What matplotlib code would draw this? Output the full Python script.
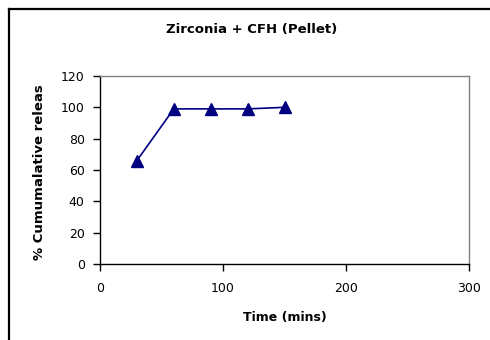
import matplotlib
matplotlib.use("Agg")
import matplotlib.pyplot as plt
from matplotlib.lines import Line2D

# Release data
time_mins = [30, 60, 90, 120, 150]
cumulative_release = [66, 99, 99, 99, 100]

x_ticks = [0, 100, 200, 300]
y_ticks = [0, 20, 40, 60, 80, 100, 120]

plt.rcParams['font.family'] = ['DejaVu Sans']

W, H = 490, 340
fig = plt.figure(figsize=(W / 100, H / 100), dpi=100)
fig.patch.set_facecolor('white')

# outer chart frame (top and left edges visible)
fx, fy = 8.5 / W, 1 - 8.5 / H
fig.lines.append(Line2D([fx, 1.0], [fy, fy], transform=fig.transFigure,
                        color='black', linewidth=1.6))
fig.lines.append(Line2D([fx, fx], [0.0, fy], transform=fig.transFigure,
                        color='black', linewidth=1.6))

ax = fig.add_axes([100 / W, 1 - 264 / H, (469 - 100) / W, (264 - 76) / H])
ax.plot(time_mins, cumulative_release, color='#000080', linewidth=1.2,
        marker='^', markersize=8, markerfacecolor='#000080',
        markeredgecolor='#000080', clip_on=False)

ax.set_xlim(0, 300)
ax.set_ylim(0, 120)
ax.set_xticks(x_ticks)
ax.set_yticks(y_ticks)
ax.tick_params(axis='both', direction='out', length=5, width=1,
               labelsize=9, color='black')
ax.tick_params(axis='x', pad=8)
ax.tick_params(axis='y', pad=6)

for side in ('left', 'bottom'):
    ax.spines[side].set_color('black')
    ax.spines[side].set_linewidth(1)
for side in ('right', 'top'):
    ax.spines[side].set_color('#808080')
    ax.spines[side].set_linewidth(1)

fig.text(252 / W, 1 - 30 / H, 'Zirconia + CFH (Pellet)', ha='center',
         va='center', fontsize=9.5, fontweight='bold')
fig.text(285 / W, 1 - 318 / H, 'Time (mins)', ha='center', va='center',
         fontsize=9, fontweight='bold')
fig.text(40 / W, 1 - 172 / H, '% Cumumalative releas', ha='center',
         va='center', rotation=90, fontsize=9.5, fontweight='bold')

fig.savefig('out.png', dpi=100, facecolor='white')
